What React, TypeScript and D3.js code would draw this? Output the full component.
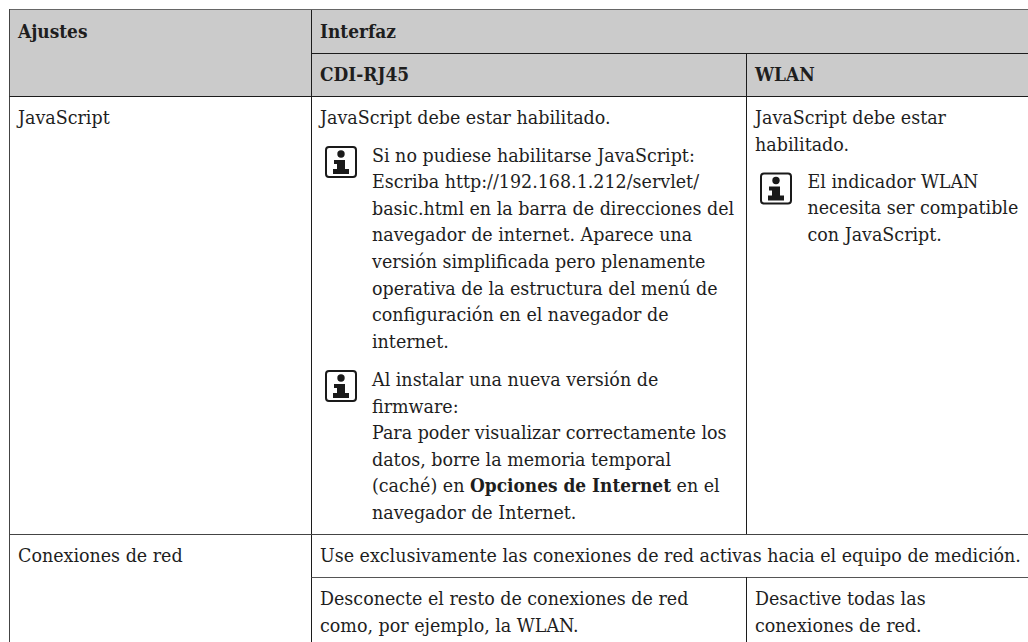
import React, { useRef, useEffect } from 'react';
import * as d3 from 'd3';

const columns = ['ajustes', 'cdi', 'wlan'];
const rowRules = ['top', 'sub', 'head', 'js', 'net', 'netSub'];

const headerTexts = [
  { col: 'ajustes', row: 'top', text: 'Ajustes' },
  { col: 'cdi', row: 'top', text: 'Interfaz' },
  { col: 'cdi', row: 'sub', text: 'CDI-RJ45' },
  { col: 'wlan', row: 'sub', text: 'WLAN' },
];

const settingLabels = [
  { row: 'head', text: 'JavaScript' },
  { row: 'js', text: 'Conexiones de red' },
];

const cdiIntro = ['JavaScript debe estar habilitado.'];
const cdiNoteOne = [
  'Si no pudiese habilitarse JavaScript:',
  'Escriba http://192.168.1.212/servlet/',
  'basic.html en la barra de direcciones del',
  'navegador de internet. Aparece una',
  'versión simplificada pero plenamente',
  'operativa de la estructura del menú de',
  'configuración en el navegador de',
  'internet.',
];
const cdiNoteTwo = [
  'Al instalar una nueva versión de',
  'firmware:',
  'Para poder visualizar correctamente los',
  'datos, borre la memoria temporal',
  '(caché) en |Opciones de Internet| en el',
  'navegador de Internet.',
];
const wlanIntro = ['JavaScript debe estar', 'habilitado.'];
const wlanNote = ['El indicador WLAN', 'necesita ser compatible', 'con JavaScript.'];
const netWide = ['Use exclusivamente las conexiones de red activas hacia el equipo de medición.'];
const netCdi = ['Desconecte el resto de conexiones de red', 'como, por ejemplo, la WLAN.'];
const netWlan = ['Desactive todas las', 'conexiones de red.'];

const FONT = '"DejaVu Serif Condensed", "DejaVu Serif", serif';

export default function App() {
  const svgRef = useRef<SVGSVGElement>(null);

  useEffect(() => {
    const svg = d3.select(svgRef.current);
    svg.selectAll('*').remove();

    const colX = d3.scaleOrdinal<string, number>().domain(columns).range([9.5, 311.5, 746.5]);
    const rowY = d3.scaleOrdinal<string, number>().domain(rowRules).range([10, 53, 96, 534, 577, 642]);
    const lineGap = 26.6;

    // grey header
    svg.append('rect')
      .attr('x', colX('ajustes')).attr('y', rowY('top'))
      .attr('width', 1028 - colX('ajustes')).attr('height', rowY('head') - rowY('top'))
      .attr('fill', '#cbcbcb');

    const rule = (x1, y1, x2, y2, color = '#1c1c1c') =>
      svg.append('line')
        .attr('x1', x1).attr('y1', y1).attr('x2', x2).attr('y2', y2)
        .attr('stroke', color).attr('stroke-width', 1);

    rule(colX('ajustes'), rowY('top') - 0.5, 1028, rowY('top') - 0.5, '#666');
    rule(colX('ajustes'), rowY('top') - 1, colX('ajustes'), 642, '#444');
    rule(colX('cdi'), rowY('top'), colX('cdi'), 642);
    rule(colX('cdi'), rowY('sub') + 0.5, 1028, rowY('sub') + 0.5);
    rule(colX('wlan'), rowY('sub'), colX('wlan'), rowY('js'));
    rule(colX('ajustes'), rowY('head') + 0.5, 1028, rowY('head') + 0.5);
    rule(colX('ajustes'), rowY('js') + 0.5, 1028, rowY('js') + 0.5, '#444');
    rule(colX('cdi'), rowY('net') + 0.5, 1028, rowY('net') + 0.5, '#555');
    rule(colX('wlan'), rowY('net'), colX('wlan'), 642);

    const g = svg.append('g')
      .attr('font-family', FONT).attr('font-size', 19.45).attr('fill', '#1e1e1e');

    // one text line, |...| marks a bold run
    const drawLine = (x, y, line, bold = false) => {
      const t = g.append('text').attr('x', x).attr('y', y);
      line.split('|').forEach((part, i) => {
        const isBold = bold || i % 2 === 1;
        t.append('tspan')
          .attr('font-weight', isBold ? 'bold' : 'normal')
          .attr('font-size', isBold ? 18.9 : 19.45)
          .text(part);
      });
    };
    const drawBlock = (x, y, lines) =>
      lines.forEach((line, i) => drawLine(x, y + i * lineGap, line));

    const pad = 8.5;
    headerTexts.forEach(d =>
      drawLine(colX(d.col) + pad, rowY(d.row) + 27.5, d.text, true));
    settingLabels.forEach(d =>
      drawLine(colX('ajustes') + pad, rowY(d.row) + 28, d.text));

    const cdiX = colX('cdi') + pad;
    const wlanX = colX('wlan') + pad;
    drawBlock(cdiX, rowY('head') + 28, cdiIntro);
    drawBlock(cdiX + 52, rowY('head') + 65.5, cdiNoteOne);
    drawBlock(cdiX + 52, rowY('head') + 290, cdiNoteTwo);
    drawBlock(wlanX, rowY('head') + 28, wlanIntro);
    drawBlock(wlanX + 52.5, rowY('head') + 91.5, wlanNote);
    drawBlock(cdiX, rowY('js') + 28, netWide);
    drawBlock(cdiX, rowY('net') + 28, netCdi);
    drawBlock(wlanX, rowY('net') + 28, netWlan);

    // info icon
    const icon = (x, y) => {
      const ig = g.append('g').attr('transform', `translate(${x},${y})`);
      ig.append('rect').attr('x', 1).attr('y', 1).attr('width', 30).attr('height', 30).attr('rx', 3)
        .attr('fill', 'none').attr('stroke', '#1a1a1a').attr('stroke-width', 2);
      ig.append('circle').attr('cx', 16).attr('cy', 8).attr('r', 3.7).attr('fill', '#1a1a1a');
      ig.append('path').attr('d', 'M9 14H20V23H24V28H8V23H12V18H9Z').attr('fill', '#1a1a1a');
    };
    icon(cdiX + 5, rowY('head') + 50);
    icon(cdiX + 5, rowY('head') + 274);
    icon(wlanX + 5, rowY('head') + 76.5);
  }, []);

  return <svg ref={svgRef} width={1028} height={642} style={{ position: 'absolute', left: 0, top: 0 }} />;
}
